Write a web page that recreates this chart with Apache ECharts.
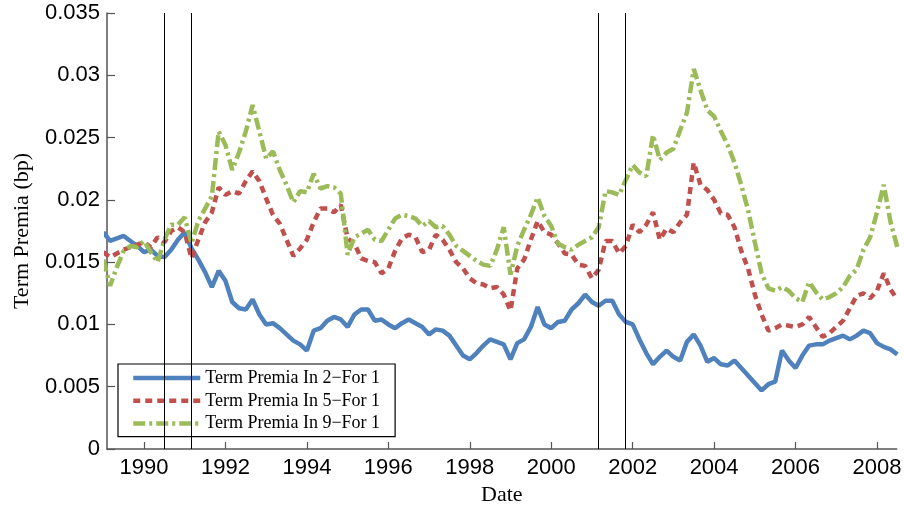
<!DOCTYPE html>
<html><head><meta charset="utf-8">
<script src="https://cdn.jsdelivr.net/npm/echarts@6/dist/echarts.min.js"></script>
<style>html,body{margin:0;padding:0;background:#fff}#c{width:904px;height:513px}</style>
</head><body><div id="c"></div>
<script>
// Sampling: one value every two months, starting Jan 1989
const startYear = 1989;
const stepYears = 1 / 6;

const seriesNames = ['Term Premia In 2\u2212For 1', 'Term Premia In 5\u2212For 1', 'Term Premia In 9\u2212For 1'];

const tp2 = [
  0.0174,0.0167,0.0169,0.0171,0.0167,0.0163,0.0158,0.0160,0.0155,0.0154,
  0.0160,0.0168,0.0174,0.0161,0.0152,0.0142,0.0130,0.0143,0.0135,0.0118,
  0.0113,0.0112,0.0120,0.0108,0.0100,0.0101,0.0097,0.0092,0.0087,0.0084,
  0.0079,0.0095,0.0097,0.0103,0.0106,0.0104,0.0098,0.0108,0.0112,0.0112,
  0.0103,0.0104,0.0100,0.0097,0.0101,0.0104,0.0101,0.0098,0.0092,0.0096,
  0.0095,0.0091,0.0083,0.0075,0.0072,0.0077,0.0083,0.0088,0.0086,0.0084,
  0.0072,0.0085,0.0088,0.0098,0.0114,0.0100,0.0097,0.0102,0.0103,0.0112,
  0.0117,0.0124,0.0118,0.0115,0.0119,0.0119,0.0108,0.0102,0.0100,0.0088,
  0.0077,0.0068,0.0074,0.0079,0.0074,0.0071,0.0086,0.0092,0.0083,0.0070,
  0.0073,0.0068,0.0067,0.0071,0.0065,0.0059,0.0053,0.0047,0.0052,0.0054,
  0.0079,0.0071,0.0065,0.0075,0.0083,0.0084,0.0084,0.0087,0.0089,0.0091,
  0.0088,0.0091,0.0095,0.0093,0.0085,0.0082,0.0080,0.0076
];

const tp5 = [
  0.0158,0.0154,0.0157,0.0160,0.0162,0.0164,0.0166,0.0162,0.0170,0.0166,
  0.0175,0.0178,0.0174,0.0153,0.0168,0.0182,0.0190,0.0210,0.0204,0.0207,
  0.0205,0.0215,0.0223,0.0215,0.0201,0.0188,0.0181,0.0168,0.0155,0.0161,
  0.0168,0.0182,0.0193,0.0193,0.0190,0.0196,0.0169,0.0165,0.0153,0.0151,
  0.0150,0.0141,0.0145,0.0159,0.0169,0.0172,0.0170,0.0158,0.0160,0.0172,
  0.0168,0.0160,0.0150,0.0145,0.0137,0.0133,0.0132,0.0129,0.0130,0.0124,
  0.0111,0.0145,0.0152,0.0168,0.0183,0.0174,0.0172,0.0165,0.0157,0.0156,
  0.0148,0.0147,0.0137,0.0144,0.0167,0.0167,0.0157,0.0163,0.0180,0.0174,
  0.0180,0.0190,0.0168,0.0177,0.0174,0.0182,0.0188,0.0230,0.0212,0.0208,
  0.0200,0.0189,0.0188,0.0178,0.0159,0.0145,0.0124,0.0108,0.0095,0.0097,
  0.0100,0.0099,0.0098,0.0100,0.0106,0.0098,0.0090,0.0093,0.0098,0.0103,
  0.0113,0.0123,0.0125,0.0121,0.0127,0.0141,0.0128,0.0120
];

const tp9 = [
  0.0152,0.0131,0.0146,0.0159,0.0163,0.0162,0.0167,0.0158,0.0150,0.0168,
  0.0180,0.0180,0.0186,0.0165,0.0183,0.0193,0.0203,0.0255,0.0244,0.0224,
  0.0238,0.0255,0.0276,0.0255,0.0233,0.0239,0.0224,0.0212,0.0198,0.0207,
  0.0206,0.0221,0.0209,0.0211,0.0210,0.0205,0.0156,0.0170,0.0173,0.0176,
  0.0168,0.0167,0.0176,0.0185,0.0188,0.0187,0.0185,0.0179,0.0183,0.0178,
  0.0179,0.0172,0.0163,0.0159,0.0155,0.0151,0.0148,0.0147,0.0160,0.0178,
  0.0140,0.0163,0.0176,0.0188,0.0202,0.0187,0.0179,0.0165,0.0162,0.0160,
  0.0164,0.0167,0.0170,0.0178,0.0207,0.0206,0.0204,0.0216,0.0228,0.0222,
  0.0219,0.0252,0.0232,0.0238,0.0241,0.0256,0.0270,0.0305,0.0288,0.0272,
  0.0267,0.0255,0.0244,0.0230,0.0212,0.0192,0.0166,0.0141,0.0129,0.0127,
  0.0130,0.0127,0.0121,0.0118,0.0134,0.0126,0.0120,0.0122,0.0125,0.0130,
  0.0139,0.0144,0.0160,0.0170,0.0190,0.0212,0.0182,0.0162
];

const yearTicks = [1990,1992,1994,1996,1998,2000,2002,2004,2006,2008];
const recessionLines = [1990.5, 1991.17, 2001.15, 2001.82];

const dates = tp2.map((_, i) => +(startYear + i * stepYears).toFixed(4));
const pairs = arr => arr.map((v, i) => [dates[i], v]);

const chart = echarts.init(document.getElementById('c'), null, {renderer: 'canvas'});
const axisCol = '#555';
const sans = '"Liberation Sans", Arial, sans-serif';
const serif = '"Liberation Serif", "Times New Roman", serif';
const LW = 4.5;

chart.setOption({
  animation: false,
  backgroundColor: '#fff',
  grid: {left: 107, right: 7.3, top: 13, bottom: 64, containLabel: false, outerBoundsMode: 'none'},
  legend: {
    orient: 'vertical', left: 118, top: 364,
    data: seriesNames,
    itemWidth: 67, itemHeight: 14, itemGap: 4.8,
    padding: [5, 15, 4, 13],
    borderColor: '#000', borderWidth: 1.2, backgroundColor: '#fff',
    itemStyle: {opacity: 0},
    lineStyle: {width: LW},
    textStyle: {fontFamily: serif, fontSize: 18, color: '#000', lineHeight: 18},
    selectedMode: false
  },
  xAxis: {
    type: 'value', min: 1989.091, max: 2008.484,
    name: 'Date', nameLocation: 'middle', nameGap: 34,
    nameTextStyle: {fontFamily: serif, fontSize: 22, color: '#000', verticalAlign: 'top'},
    axisLine: {show: true, onZero: false, lineStyle: {color: axisCol, width: 1.5}},
    axisTick: {show: true, inside: true, length: 7, customValues: yearTicks, lineStyle: {color: axisCol, width: 1.2}},
    axisLabel: {customValues: yearTicks, fontFamily: sans, fontSize: 22, color: '#000', margin: 8,
      formatter: v => String(Math.round(v))},
    splitLine: {show: false}
  },
  yAxis: {
    type: 'value', min: 0, max: 0.035, interval: 0.005,
    name: 'Term Premia (bp)', nameLocation: 'middle', nameGap: 74, nameRotate: 90,
    nameTextStyle: {fontFamily: serif, fontSize: 22, color: '#000'},
    axisLine: {show: true, lineStyle: {color: axisCol, width: 1.5}},
    axisTick: {show: true, inside: true, length: 8, lineStyle: {color: axisCol, width: 1.2}},
    axisLabel: {fontFamily: sans, fontSize: 22, color: '#000', margin: 7,
      formatter: v => v === 0 ? '0' : String(+v.toFixed(3))},
    splitLine: {show: false}
  },
  series: [
    {
      name: seriesNames[0], type: 'line', data: pairs(tp2), symbol: 'none', showSymbol: false,
      color: '#4F81BD',
      lineStyle: {color: '#4F81BD', width: LW, type: 'solid'},
      markLine: {
        silent: true, symbol: 'none', label: {show: false},
        lineStyle: {color: '#000', width: 1, type: 'solid'},
        data: recessionLines.map(x => ({xAxis: x}))
      }
    },
    {
      name: seriesNames[1], type: 'line', data: pairs(tp5), symbol: 'none', showSymbol: false,
      color: '#C0504D',
      lineStyle: {color: '#C0504D', width: LW, type: [7, 5]}
    },
    {
      name: seriesNames[2], type: 'line', data: pairs(tp9), symbol: 'none', showSymbol: false,
      color: '#9BBB59',
      lineStyle: {color: '#9BBB59', width: LW, type: [12, 4, 3, 4]}
    }
  ]
});
</script></body></html>
